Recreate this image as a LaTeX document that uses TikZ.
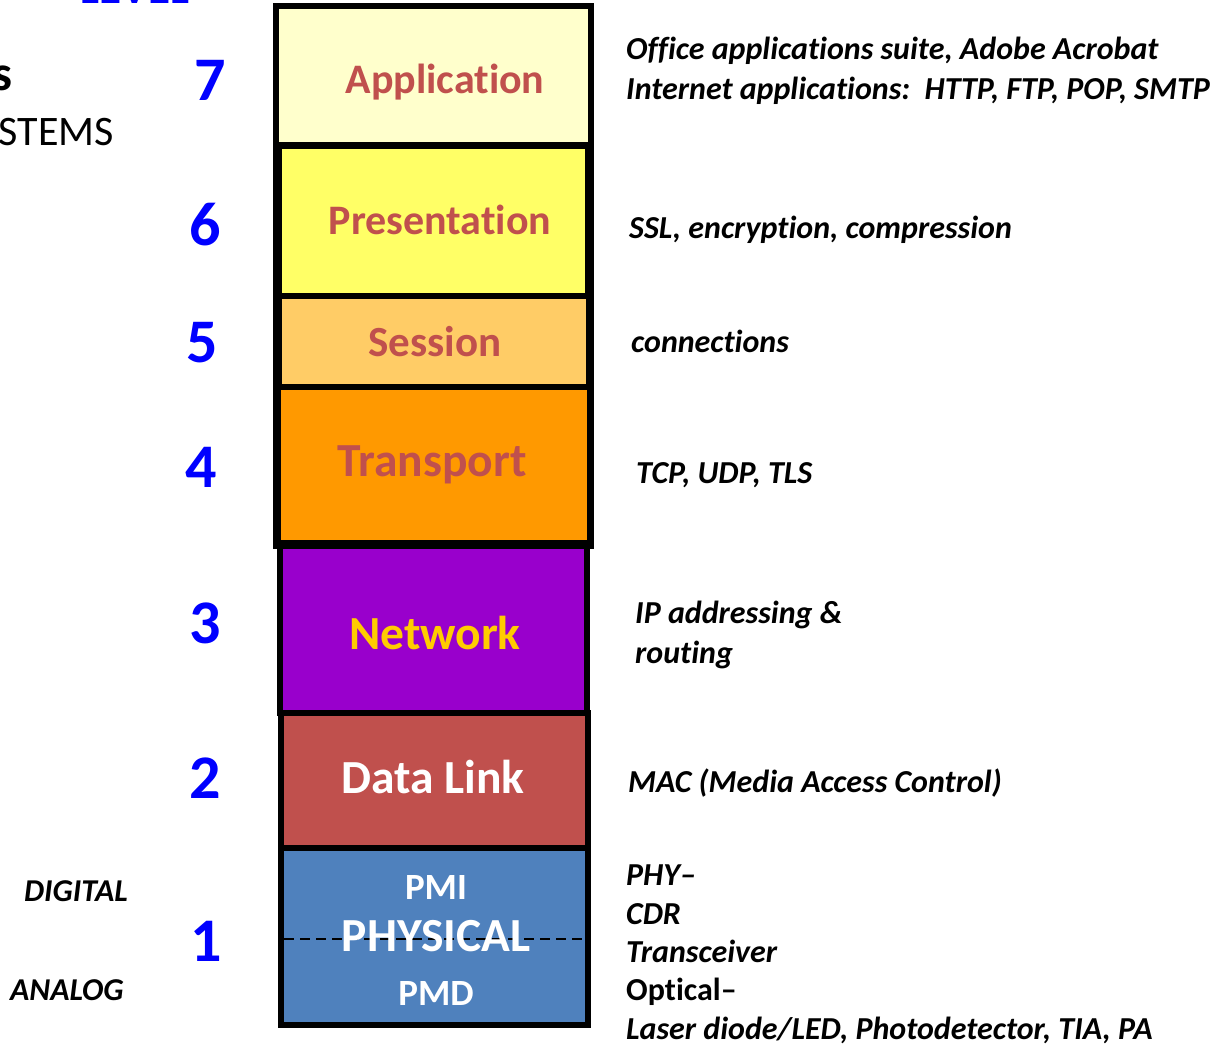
\documentclass[tikz,border=0pt]{standalone}
\usepackage{fontspec}
\setmainfont{Carlito}[RawFeature=-liga]
\definecolor{numblue}{HTML}{0000FF}
\definecolor{appfill}{HTML}{FFFFCC}
\definecolor{presfill}{HTML}{FFFF66}
\definecolor{sessfill}{HTML}{FFCC66}
\definecolor{transfill}{HTML}{FF9900}
\definecolor{netfill}{HTML}{9900CC}
\definecolor{nettext}{HTML}{FFCC00}
\definecolor{dlfill}{HTML}{C0504D}
\definecolor{redtext}{HTML}{C0504D}
\definecolor{phyfill}{HTML}{4F81BD}
\begin{document}
\begin{tikzpicture}[x=1pt,y=-1pt,
  layerbox/.style={draw=black,line width=6pt,inner sep=0pt,rectangle},
  lname/.style={font=\fontsize{42}{48}\selectfont\bfseries,inner sep=0pt},
  bigname/.style={font=\fontsize{47.5}{52}\selectfont\bfseries,inner sep=0pt},
  subname/.style={font=\fontsize{37}{42}\selectfont\bfseries,inner sep=0pt,text=white},
  num/.style={text=numblue,font=\fontsize{62}{70}\selectfont\bfseries,inner sep=0pt},
  desc/.style={anchor=base west,font=\fontsize{32}{36}\selectfont\bfseries\itshape,inner sep=0pt},
  side/.style={anchor=base west,font=\fontsize{31.8}{36}\selectfont\bfseries\itshape,inner sep=0pt}]
\useasboundingbox (0,0) rectangle (1220,1052);
\clip (0,0) rectangle (1220,1052);
% cut-off texts at left/top
\node[anchor=base,inner sep=0pt,text=numblue,font=\fontsize{45}{50}\selectfont\bfseries] (lvl) at (135,3) {LEVEL};
\node[anchor=base east,inner sep=0pt,font=\fontsize{50}{56}\selectfont\bfseries] (s) at (13,90) {s};
\node[anchor=base east,inner sep=0pt,font=\fontsize{42}{48}\selectfont] (stems) at (114,145) {STEMS};
% layer boxes
\node[layerbox,fill=appfill,minimum width=315pt,minimum height=139pt] (app) at (433.5,75.5) {};
\node[layerbox,fill=presfill,minimum width=309pt,minimum height=150pt] (pres) at (433.5,221) {};
\node[layerbox,fill=sessfill,minimum width=310pt,minimum height=91pt] (sess) at (434,341.5) {};
\node[layerbox,fill=transfill,minimum width=312pt,minimum height=156pt] (trans) at (434,465) {};
\node[layerbox,minimum width=315pt,minimum height=540pt] (upper) at (433.5,276) {};
\node[layerbox,fill=netfill,minimum width=307pt,minimum height=167pt] (net) at (433.5,629.5) {};
\node[layerbox,fill=dlfill,minimum width=307pt,minimum height=135pt] (dl) at (434.5,780.5) {};
\node[layerbox,fill=phyfill,minimum width=307pt,minimum height=177pt] (phy) at (434.5,936.5) {};
% layer names
\node[lname,text=redtext] (tapp) at (445,82) {Application};
\node[lname,text=redtext] (tpres) at (440,220) {Presentation};
\node[lname,text=redtext,font=\fontsize{43}{48}\selectfont\bfseries] (tsess) at (435,342) {Session};
\node[bigname,text=redtext] (ttrans) at (432,465) {Transport};
\node[bigname,text=nettext] (tnet) at (435,633) {Network};
\node[bigname,text=white] (tdl) at (433,777) {Data Link};
% physical
\coordinate (dashl) at (284,939);
\coordinate (dashr) at (582,939);
\draw[line width=1.6pt,dash pattern=on 10pt off 6pt] (dashl) -- (dashr);
\node[subname] (tpmi) at (436,887) {PMI};
\node[bigname,text=white] (tphy) at (436,936) {PHYSICAL};
\node[subname] (tpmd) at (436,993) {PMD};
% numbers
\node[num] (n7) at (210,80) {7};
\node[num] (n6) at (205,225) {6};
\node[num] (n5) at (202,343) {5};
\node[num] (n4) at (201,467) {4};
\node[num] (n3) at (205,623) {3};
\node[num] (n2) at (205,778) {2};
\node[num] (n1) at (206,941) {1};
% side labels
\node[side] (dig) at (24,901) {DIGITAL};
\node[side] (ana) at (10,1000) {ANALOG};
% descriptions
\node[desc] (d7a) at (626,59) {Office applications suite, Adobe Acrobat};
\node[desc] (d7b) at (626,99) {Internet applications:\ \ HTTP, FTP, POP, SMTP};
\node[desc] (d6) at (629,238) {SSL, encryption, compression};
\node[desc] (d5) at (631,352) {connections};
\node[desc] (d4) at (636,483) {TCP, UDP, TLS};
\node[desc] (d3a) at (635,623) {IP addressing \&};
\node[desc] (d3b) at (635,663) {routing};
\node[desc] (d2) at (628,792) {MAC (Media Access Control)};
\node[desc] (d1a) at (626,885) {PHY–};
\node[desc] (d1b) at (626,924) {CDR};
\node[desc] (d1c) at (626,962) {Transceiver};
\node[desc,font=\fontsize{32}{36}\selectfont\bfseries] (d1d) at (626,1000) {Optical–};
\node[desc] (d1e) at (626,1039) {Laser diode/LED, Photodetector, TIA, PA};
\end{tikzpicture}
\end{document}
